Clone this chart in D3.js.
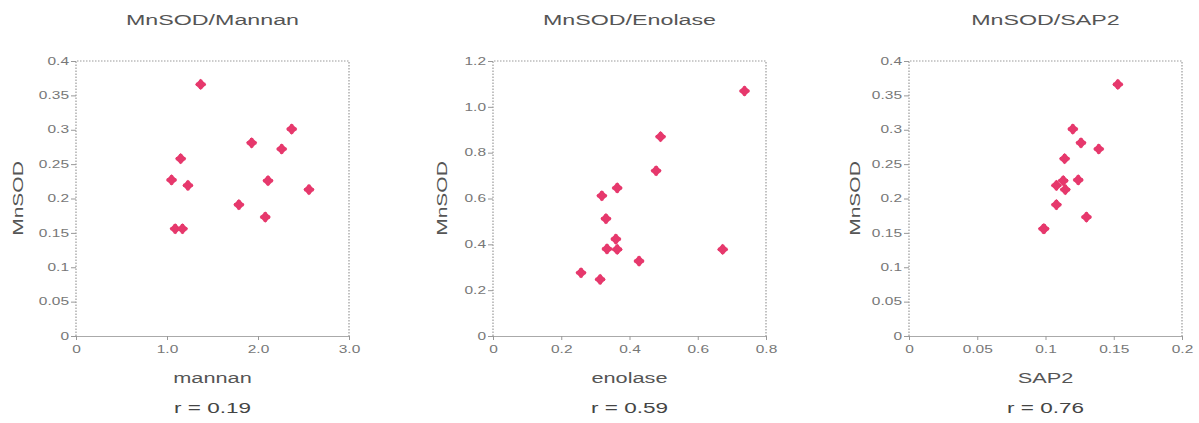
<!DOCTYPE html>
<html lang="en">
<head>
<meta charset="UTF-8">
<title>MnSOD correlations</title>
<script src="https://d3js.org/d3.v7.min.js"></script>
<style>
  body { margin: 0; background: #fff; }
  svg { display: block; font-family: "Liberation Sans", Arial, sans-serif; }
</style>
</head>
<body>
<svg id="chart" width="1199" height="423"></svg>
<script>
// --- data ---
const titles = ["MnSOD/Mannan", "MnSOD/Enolase", "MnSOD/SAP2"];
const xTitles = ["mannan", "enolase", "SAP2"];
const rLabels = ["r = 0.19", "r = 0.59", "r = 0.76"];

const mnsod = [0.366, 0.301, 0.281, 0.272, 0.258, 0.227, 0.226, 0.219, 0.213, 0.191, 0.173, 0.156, 0.156];
const mannan = [1.37, 2.37, 1.93, 2.26, 1.15, 1.05, 2.11, 1.23, 2.56, 1.79, 2.08, 1.09, 1.17];
const sap2 = [0.153, 0.120, 0.126, 0.139, 0.114, 0.124, 0.113, 0.108, 0.1145, 0.108, 0.130, 0.099, 0.0985];

const mnsodEno = [1.069, 0.870, 0.721, 0.646, 0.612, 0.512, 0.423, 0.380, 0.378, 0.378, 0.327, 0.276, 0.247];
const enolase = [0.737, 0.491, 0.478, 0.364, 0.319, 0.331, 0.360, 0.334, 0.364, 0.673, 0.428, 0.258, 0.314];

const yTicksA = [0, 0.05, 0.1, 0.15, 0.2, 0.25, 0.3, 0.35, 0.4];
const yLabelsA = ["0", "0.05", "0.1", "0.15", "0.2", "0.25", "0.3", "0.35", "0.4"];
const yTicksB = [0, 0.2, 0.4, 0.6, 0.8, 1.0, 1.2];
const yLabelsB = ["0", "0.2", "0.4", "0.6", "0.8", "1.0", "1.2"];

const xTicks1 = [0, 1, 2, 3];
const xLabels1 = ["0", "1.0", "2.0", "3.0"];
const xTicks2 = [0, 0.2, 0.4, 0.6, 0.8];
const xLabels2 = ["0", "0.2", "0.4", "0.6", "0.8"];
const xTicks3 = [0, 0.05, 0.1, 0.15, 0.2];
const xLabels3 = ["0", "0.05", "0.1", "0.15", "0.2"];

// --- layout ---
const svg = d3.select("#chart");
const plotTop = 61, plotBottom = 336, pw = 273;
const lefts = [76, 493, 909];
const yLabelOff = [-58, -51, -54];
const sx = 1.55; // the original text is stretched horizontally
const pink = "#e6386c";

const panels = [
  { x: mannan, y: mnsod, xd: [0, 3], yd: [0, 0.4], xt: xTicks1, xl: xLabels1, yt: yTicksA, yl: yLabelsA },
  { x: enolase, y: mnsodEno, xd: [0, 0.8], yd: [0, 1.2], xt: xTicks2, xl: xLabels2, yt: yTicksB, yl: yLabelsB },
  { x: sap2, y: mnsod, xd: [0, 0.2], yd: [0, 0.4], xt: xTicks3, xl: xLabels3, yt: yTicksA, yl: yLabelsA }
];

function stretchText(g, x, y, str, size, color, scaleX, rotate) {
  return g.append("text")
    .attr("transform", `translate(${x},${y})` + (rotate ? ` rotate(${rotate})` : "") + ` scale(${scaleX},1)`)
    .attr("text-anchor", "middle")
    .attr("font-size", size)
    .attr("fill", color)
    .text(str);
}

const cross = d3.symbol().type(d3.symbolCross).size(50)();
const diamond = d3.symbol().type(d3.symbolDiamond2).size(80)();

panels.forEach((p, i) => {
  const left = lefts[i];
  const g = svg.append("g");

  const x = d3.scaleLinear().domain(p.xd).range([left, left + pw]);
  const y = d3.scaleLinear().domain(p.yd).range([plotBottom, plotTop]);

  // dotted frame (left, top, right)
  g.append("path")
    .attr("d", `M${left},${plotBottom}V${plotTop}H${left + pw}V${plotBottom}`)
    .attr("fill", "none")
    .attr("stroke", "#9a9a9a")
    .attr("stroke-width", 1.2)
    .attr("stroke-dasharray", "1.5,1.5");

  // left axis
  const ya = g.append("g")
    .attr("transform", `translate(${left},0)`)
    .call(d3.axisLeft(y).tickValues(p.yt).tickFormat((d, k) => p.yl[k]).tickSize(5).tickPadding(2));
  ya.select(".domain").remove();
  ya.selectAll(".tick line").attr("stroke", "#999");
  ya.selectAll(".tick text")
    .attr("font-size", 10)
    .attr("fill", "#777")
    .attr("x", -7 / sx)
    .attr("transform", `scale(${sx},1)`);

  // bottom axis
  const xa = g.append("g")
    .attr("transform", `translate(0,${plotBottom})`)
    .call(d3.axisBottom(x).tickValues(p.xt).tickFormat((d, k) => p.xl[k]).tickSize(4).tickPadding(6));
  xa.select(".domain").attr("stroke", "#aaa").attr("d", `M${left},0.5H${left + pw}`);
  xa.selectAll(".tick line").attr("stroke", "#999");
  xa.selectAll(".tick text")
    .attr("font-size", 10)
    .attr("fill", "#777")
    .attr("transform", `scale(${sx},1)`);
  xa.attr("font-family", null);
  ya.attr("font-family", null);

  // titles
  const cx = left + pw / 2;
  stretchText(g, cx, 25, titles[i], 15, "#555", sx);
  stretchText(g, cx, 383, xTitles[i], 14.5, "#555", 1.5);
  stretchText(g, cx, 413, rLabels[i], 15, "#444", 1.5);
  stretchText(g, left + yLabelOff[i] + 5, (plotTop + plotBottom) / 2, "MnSOD", 15, "#555", 1.4, -90);

  // points
  const pts = g.append("g");
  p.x.forEach((v, k) => {
    const t = `translate(${x(v)},${y(p.y[k])})`;
    pts.append("path").attr("d", diamond).attr("transform", t).attr("fill", pink);
    pts.append("path").attr("d", cross).attr("transform", t).attr("fill", pink);
  });
});
</script>
</body>
</html>
